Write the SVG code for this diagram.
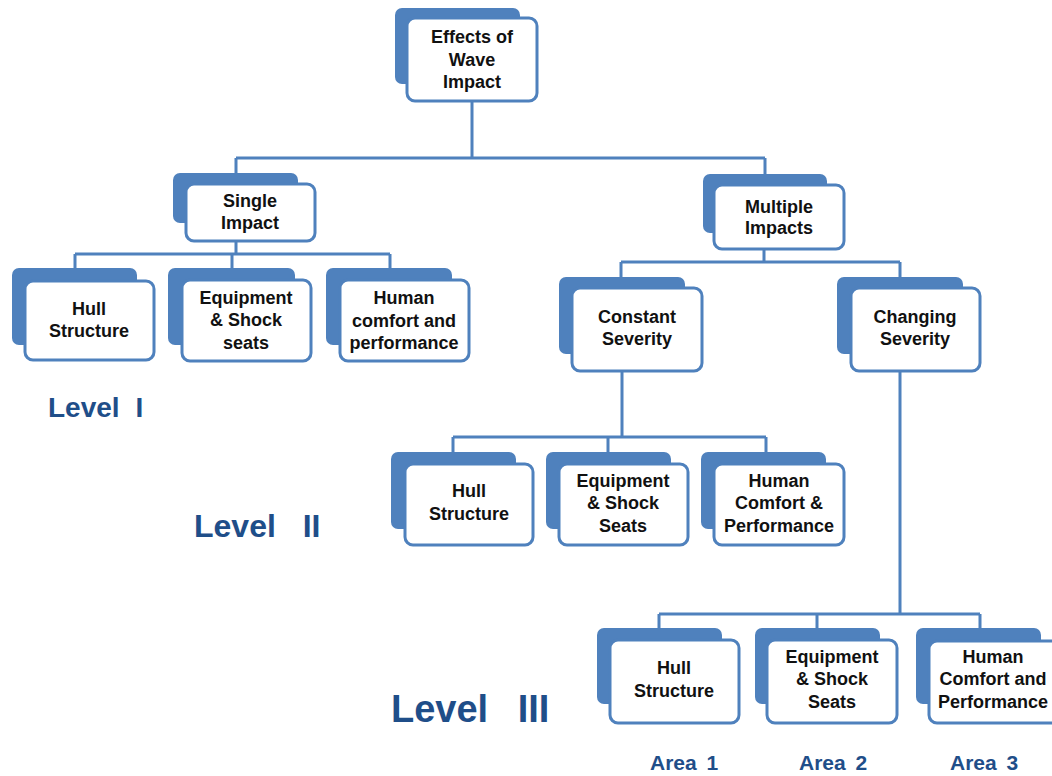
<svg xmlns="http://www.w3.org/2000/svg" width="1052" height="776" viewBox="0 0 1052 776">
<style>
.bk{fill:#4f81bd;}
.fr{fill:#fff;stroke:#4f81bd;stroke-width:3;}
.t{font-family:"Liberation Sans",Arial,sans-serif;font-weight:bold;font-size:18px;fill:#111;text-anchor:middle;}
.lv{font-family:"Liberation Sans",Arial,sans-serif;font-weight:bold;fill:#1f4e89;}
.ar{font-family:"Liberation Sans",Arial,sans-serif;font-weight:bold;font-size:21px;fill:#1f4e89;word-spacing:4px;}
.c{fill:none;stroke:#4f81bd;stroke-width:3;}
</style>
<rect width="1052" height="776" fill="#fff"/>
<g id="connectors">
<path class="c" d="M472,101 V158 M236,158 H765 M236,158 V173 M765,158 V174"/>
<path class="c" d="M236,241 V254 M75,254 H390 M75,254 V268 M232,254 V268 M390,254 V268"/>
<path class="c" d="M764,249 V262 M621,262 H900 M621,262 V277 M900,262 V277"/>
<path class="c" d="M622,371 V437 M453,437 H766 M453,437 V452 M608,437 V452 M766,437 V452"/>
<path class="c" d="M900,371 V614 M659,614 H980 M659,614 V628 M817,614 V628 M980,614 V628"/>
</g>
<g id="root">
<rect class="bk" x="395" y="8" width="125" height="76" rx="7"/>
<rect class="fr" x="407" y="18" width="130" height="83" rx="8"/>
<text class="t" x="472" y="43">Effects of</text>
<text class="t" x="472" y="66">Wave</text>
<text class="t" x="472" y="88">Impact</text>
</g>
<g id="single">
<rect class="bk" x="173" y="173" width="125" height="50" rx="7"/>
<rect class="fr" x="186" y="184" width="129" height="57" rx="8"/>
<text class="t" x="250" y="207">Single</text>
<text class="t" x="250" y="229">Impact</text>
</g>
<g id="multiple">
<rect class="bk" x="703" y="174" width="124" height="59" rx="7"/>
<rect class="fr" x="714" y="185" width="130" height="64" rx="8"/>
<text class="t" x="779" y="213">Multiple</text>
<text class="t" x="779" y="234">Impacts</text>
</g>
<g id="l1-hull">
<rect class="bk" x="12" y="268" width="125" height="77" rx="7"/>
<rect class="fr" x="25" y="281" width="129" height="79" rx="8"/>
<text class="t" x="89" y="315">Hull</text>
<text class="t" x="89" y="337">Structure</text>
</g>
<g id="l1-equip">
<rect class="bk" x="168" y="268" width="127" height="77" rx="7"/>
<rect class="fr" x="182" y="280" width="129" height="81" rx="8"/>
<text class="t" x="246" y="304">Equipment</text>
<text class="t" x="246" y="326">&amp; Shock</text>
<text class="t" x="246" y="349">seats</text>
</g>
<g id="l1-human">
<rect class="bk" x="326" y="268" width="126" height="77" rx="7"/>
<rect class="fr" x="340" y="280" width="129" height="81" rx="8"/>
<text class="t" x="404" y="304">Human</text>
<text class="t" x="404" y="327">comfort and</text>
<text class="t" x="404" y="349">performance</text>
</g>
<g id="constant">
<rect class="bk" x="559" y="277" width="126" height="77" rx="7"/>
<rect class="fr" x="572" y="288" width="130" height="83" rx="8"/>
<text class="t" x="637" y="323">Constant</text>
<text class="t" x="637" y="345">Severity</text>
</g>
<g id="changing">
<rect class="bk" x="837" y="277" width="126" height="77" rx="7"/>
<rect class="fr" x="851" y="288" width="129" height="83" rx="8"/>
<text class="t" x="915" y="323">Changing</text>
<text class="t" x="915" y="345">Severity</text>
</g>
<g id="l2-hull">
<rect class="bk" x="391" y="452" width="125" height="77" rx="7"/>
<rect class="fr" x="405" y="464" width="128" height="81" rx="8"/>
<text class="t" x="469" y="497">Hull</text>
<text class="t" x="469" y="520">Structure</text>
</g>
<g id="l2-equip">
<rect class="bk" x="546" y="452" width="125" height="77" rx="7"/>
<rect class="fr" x="559" y="464" width="129" height="81" rx="8"/>
<text class="t" x="623" y="487">Equipment</text>
<text class="t" x="623" y="509">&amp; Shock</text>
<text class="t" x="623" y="532">Seats</text>
</g>
<g id="l2-human">
<rect class="bk" x="701" y="452" width="125" height="77" rx="7"/>
<rect class="fr" x="714" y="464" width="130" height="81" rx="8"/>
<text class="t" x="779" y="487">Human</text>
<text class="t" x="779" y="509">Comfort &amp;</text>
<text class="t" x="779" y="532">Performance</text>
</g>
<g id="l3-hull">
<rect class="bk" x="597" y="628" width="125" height="76" rx="7"/>
<rect class="fr" x="610" y="640" width="129" height="83" rx="8"/>
<text class="t" x="674" y="674">Hull</text>
<text class="t" x="674" y="697">Structure</text>
</g>
<g id="l3-equip">
<rect class="bk" x="755" y="628" width="125" height="76" rx="7"/>
<rect class="fr" x="767" y="640" width="130" height="83" rx="8"/>
<text class="t" x="832" y="663">Equipment</text>
<text class="t" x="832" y="685">&amp; Shock</text>
<text class="t" x="832" y="708">Seats</text>
</g>
<g id="l3-human">
<rect class="bk" x="916" y="628" width="125" height="76" rx="7"/>
<rect class="fr" x="929" y="641" width="130" height="82" rx="8"/>
<text class="t" x="993" y="663">Human</text>
<text class="t" x="993" y="685">Comfort and</text>
<text class="t" x="993" y="708">Performance</text>
</g>
<g id="labels">
<text class="lv" x="48" y="417" font-size="28" word-spacing="8">Level I</text>
<text class="lv" x="194" y="537" font-size="32" word-spacing="18">Level II</text>
<text class="lv" x="391" y="722" font-size="38" word-spacing="19">Level III</text>
<text class="ar" x="650" y="770">Area 1</text>
<text class="ar" x="799" y="770">Area 2</text>
<text class="ar" x="950" y="770">Area 3</text>
</g>
</svg>
